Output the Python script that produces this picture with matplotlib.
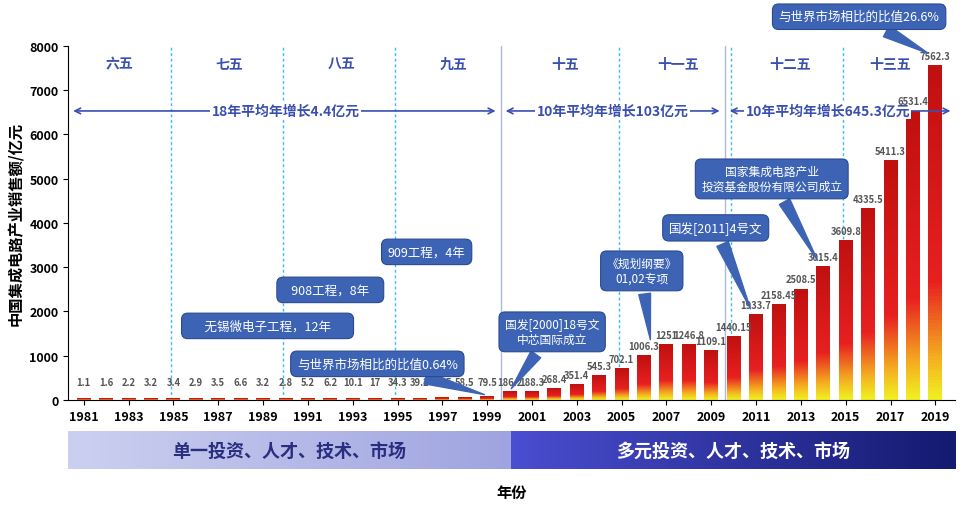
import numpy as np
import matplotlib
matplotlib.use("Agg")
import matplotlib.pyplot as plt
from matplotlib.colors import LinearSegmentedColormap

plt.rcParams["font.family"] = ["Noto Sans CJK SC", "DejaVu Sans"]

# data
years = list(range(1981, 2020))
sales = [1.1, 1.6, 2.2, 3.2, 3.4, 2.9, 3.5, 6.6, 3.2, 2.8, 5.2, 6.2, 10.1, 17,
         34.3, 39.2, 52.5, 58.5, 79.5, 186.2, 188.3, 268.4, 351.4, 545.3, 702.1,
         1006.3, 1251.3, 1246.8, 1109.1, 1440.15, 1933.7, 2158.45, 2508.5,
         3015.4, 3609.8, 4335.5, 5411.3, 6531.4, 7562.3]
labels = ["1.1", "1.6", "2.2", "3.2", "3.4", "2.9", "3.5", "6.6", "3.2", "2.8",
          "5.2", "6.2", "10.1", "17", "34.3", "39.2", "52.5", "58.5", "79.5",
          "186.2", "188.3", "268.4", "351.4", "545.3", "702.1", "1006.3", "1251",
          "1246.8", "1109.1", "1440.15", "1933.7", "2158.45", "2508.5", "3015.4",
          "3609.8", "4335.5", "5411.3", "6531.4", "7562.3"]
periods = ["六五", "七五", "八五", "九五", "十五", "十一五", "十二五", "十三五"]
period_x = [1982.6, 1987.5, 1992.5, 1997.5, 2002.5, 2007.5, 2012.5, 2017]
blue = "#3d64b4"
txtblue = "#3a4fb0"

fig = plt.figure(figsize=(9.73, 5.1), dpi=100)
ax = fig.add_axes([0.070, 0.214, 0.912, 0.694])
ax.set_xlim(1980.3, 2019.9)
ax.set_ylim(0, 8000)

cmap = LinearSegmentedColormap.from_list(
    "bar", [(0, "#f0f020"), (0.12, "#f5b020"), (0.35, "#e82020"), (1, "#c01010")])
grad = np.linspace(0, 1, 100).reshape(-1, 1)
w = 0.62
for x, v, lab in zip(years, sales, labels):
    ax.imshow(grad, cmap=cmap, origin="lower", aspect="auto",
              extent=(x - w / 2, x + w / 2, 0, max(v, 25)), zorder=2)
    ax.text(x, v + 100 if v > 100 else 290, lab, ha="center", va="bottom",
            fontsize=6.8, color="#555555", fontweight="bold", zorder=4)

for x in [1985, 1990, 1995, 2005, 2010, 2015]:
    ax.axvline(x - 0.1, color="#30c0e8", ls=(0, (2, 2)), lw=1, zorder=1)
for x in [1999.6, 2009.6]:
    ax.axvline(x, color="#b0b8e0", lw=1, zorder=1)

for p, x in zip(periods, period_x):
    ax.text(x, 7600, p, ha="center", va="center", fontsize=10,
            fontweight="bold", color=txtblue)

for x0, x1, xt, t in [(1980.4, 1999.5, 1990, "18年平均年增长4.4亿元"),
                      (1999.7, 2009.5, 2004.6, "10年平均年增长103亿元"),
                      (2009.7, 2019.8, 2014.2, "10年平均年增长645.3亿元")]:
    ax.annotate("", xy=(x0, 6530), xytext=(x1, 6530),
                arrowprops=dict(arrowstyle="<->", color=txtblue, lw=1.2))
    ax.text(xt, 6530, t, ha="center", va="center", fontsize=10,
            fontweight="bold", color=txtblue,
            bbox=dict(fc="white", ec="none", pad=1))

callouts = [
    ("909工程，4年", 1996.3, 3345, None),
    ("908工程，8年", 1992.0, 2486, None),
    ("无锡微电子工程，12年", 1989.2, 1672, None),
    ("与世界市场相比的比值0.64%", 1994.1, 814, (1999, 100)),
    ("国发[2000]18号文\n中芯国际成立", 2001.9, 1537, (2000, 200)),
    ("《规划纲要》\n01,02专项", 2005.9, 2915, (2006.3, 1300)),
    ("国发[2011]4号文", 2009.2, 3887, (2010.8, 2000)),
    ("国家集成电路产业\n投资基金股份有限公司成立", 2011.7, 4994, (2013.8, 3100)),
    ("与世界市场相比的比值26.6%", 2015.6, 8660, (2018.8, 7800)),
]
for t, x, y, tip in callouts:
    if t == "无锡微电子工程，12年":
        t = "      " + t + "      "
    elif t == "908工程，8年":
        t = "   " + t + "   "
    box = dict(boxstyle="round,pad=0.5", fc=blue, ec="#2a4a90", lw=0.8)
    if tip is None:
        ax.text(x, y, t, ha="center", va="center", fontsize=9, color="white",
                bbox=box, zorder=5, clip_on=False)
    else:
        ax.annotate(t, xy=tip, xytext=(x, y), ha="center", va="center",
                    fontsize=9 if "\n" not in t else 8.5, color="white",
                    bbox=box, zorder=5, annotation_clip=False,
                    arrowprops=dict(arrowstyle="wedge,tail_width=1.0",
                                    fc=blue, ec=blue))

ax.set_xticks(years[::2])
ax.set_xticklabels([str(y) for y in years[::2]], fontsize=9, fontweight="bold")
ax.set_yticks(range(0, 8001, 1000))
ax.tick_params(axis="y", labelsize=9)
for lab in ax.get_yticklabels():
    lab.set_fontweight("bold")
ax.set_ylabel("中国集成电路产业销售额/亿元", fontsize=11, fontweight="bold")
for s in ["top", "right"]:
    ax.spines[s].set_visible(False)

# bottom bands
left = fig.add_axes([0.070, 0.078, 0.455, 0.075])
left.imshow(np.linspace(0, 1, 100).reshape(1, -1), aspect="auto",
            cmap=LinearSegmentedColormap.from_list("l", ["#ccd0f0", "#9fa4e0"]))
left.text(0.5, 0.5, "单一投资、人才、技术、市场", transform=left.transAxes,
          ha="center", va="center", fontsize=13, fontweight="bold",
          color="#2a2e80")
right = fig.add_axes([0.525, 0.078, 0.457, 0.075])
right.imshow(np.linspace(0, 1, 100).reshape(1, -1), aspect="auto",
             cmap=LinearSegmentedColormap.from_list("r", ["#4a4ed0", "#141a70"]))
right.text(0.5, 0.5, "多元投资、人才、技术、市场", transform=right.transAxes,
           ha="center", va="center", fontsize=13, fontweight="bold",
           color="white")
for a in (left, right):
    a.axis("off")
fig.text(0.526, 0.033, "年份", ha="center", va="center", fontsize=11,
         fontweight="bold")

fig.savefig("out.png", dpi=100)
